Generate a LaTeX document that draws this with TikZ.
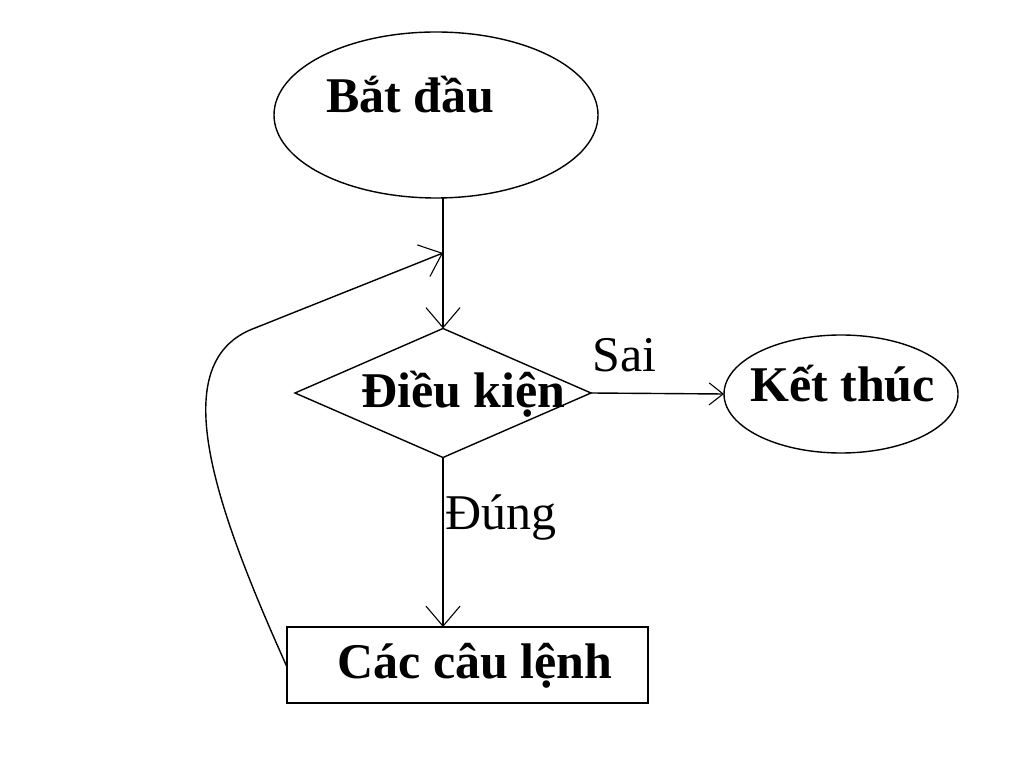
\documentclass[tikz,border=0pt]{standalone}
\usepackage{fontspec}
\setmainfont{Liberation Serif}
\usetikzlibrary{shapes.geometric,arrows.meta}
\begin{document}
\begin{tikzpicture}[x=1pt,y=1pt,
  shp/.style={draw,line width=1.4pt,inner sep=0pt,outer sep=0pt},
  bigtxt/.style={font=\fontsize{50}{58}\selectfont\bfseries,inner sep=0pt,anchor=base west},
  smtxt/.style={font=\fontsize{50}{58}\selectfont,inner sep=0pt,anchor=base west},
  conn/.style={line width=1.4pt},
  tipbig/.style={-{Straight Barb[length=20pt,width=34pt,line width=1.1pt]}},
  tipsm/.style={-{Straight Barb[length=14pt,width=22pt,line width=1.1pt]}}]
\useasboundingbox[fill=white] (0,0) rectangle (1024,771);
% shapes
\node[shp,ellipse,minimum width=324pt,minimum height=166pt] (start) at (436,656) {};
\node[shp,diamond,minimum width=296pt,minimum height=129pt] (dia) at (443,378) {};
\node[shp,ellipse,minimum width=234pt,minimum height=118pt] (stop) at (841,377) {};
\node[shp,rectangle,minimum width=361pt,minimum height=76pt] (body) at (467.5,106) {};
% texts
\node[bigtxt] (tstart) at (326,658) {Bắt đầu};
\node[bigtxt] (tdia) at (361,363) {Điều kiện};
\node[bigtxt] (tstop) at (750,369) {Kết thúc};
\node[bigtxt] (tbody) at (337,93) {Các câu lệnh};
\node[smtxt] (tsai) at (592,399) {Sai};
\node[smtxt] (tdung) at (445,241) {Đúng};
% connectors
\coordinate (join) at (443,518);
\draw[conn,tipbig] (dia.north |- start.south) -- (dia.north);
\draw[conn,tipsm] (dia.east) -- (stop.west);
\draw[conn,tipbig] (dia.south) -- (body.north -| dia.south);
\draw[conn,tipbig] (body.west |- 0,104) .. controls (212,271) and (165,410) .. (255,443) -- (join);
\end{tikzpicture}
\end{document}
